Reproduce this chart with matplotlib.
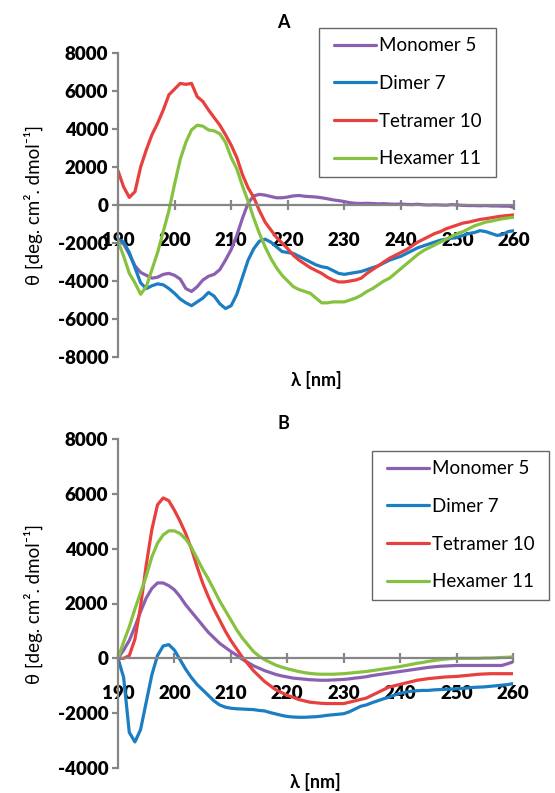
import numpy as np
import matplotlib
matplotlib.use("Agg")
import matplotlib.pyplot as plt
from matplotlib.legend_handler import HandlerLine2D

plt.rcParams['font.family'] = ['Lato', 'DejaVu Sans']
plt.rcParams['axes.unicode_minus'] = False

# wavelengths (nm)
wl = list(range(190, 261))

# ---- panel A ----
a_monomer = [-1900, -2050, -2600, -3200, -3550, -3700, -3850, -3800, -3650, -3600,
             -3700, -3900, -4400, -4550, -4300, -3950, -3750, -3650, -3400, -2900,
             -2350, -1600, -700, 100, 480, 560, 520, 450, 380, 380,
             420, 480, 500, 460, 440, 420, 380, 330, 270, 230,
             180, 120, 90, 80, 90, 80, 60, 70, 50, 40,
             50, 30, 20, 40, 10, 0, 10, 0, -10, 20,
             0, -20, -30, -30, -40, -30, -50, -50, -60, -60, -120]
a_dimer = [-1800, -1950, -2500, -3300, -4100, -4400, -4250, -4150, -4200, -4400,
           -4650, -4950, -5150, -5300, -5100, -4900, -4600, -4800, -5200, -5450,
           -5300, -4700, -3800, -2900, -2300, -1900, -1800, -1950, -2200, -2450,
           -2500, -2550, -2700, -2850, -3000, -3150, -3250, -3300, -3450, -3600,
           -3650, -3600, -3550, -3500, -3400, -3300, -3200, -3050, -2900, -2800,
           -2700, -2550, -2400, -2250, -2150, -2050, -1950, -1850, -1800, -1750,
           -1700, -1600, -1500, -1450, -1350, -1400, -1500, -1600, -1550, -1400, -1350]
a_tetramer = [1800, 950, 400, 700, 2000, 2900, 3700, 4300, 5000, 5800,
              6100, 6400, 6350, 6400, 5700, 5450, 5000, 4600, 4200, 3700,
              3150, 2500, 1600, 900, 400, -300, -900, -1300, -1700, -2000,
              -2300, -2650, -2900, -3100, -3300, -3450, -3600, -3800, -3950, -4050,
              -4050, -4000, -3950, -3850, -3600, -3400, -3200, -3000, -2800, -2650,
              -2500, -2350, -2150, -1950, -1800, -1650, -1500, -1400, -1250, -1150,
              -1050, -950, -900, -830, -760, -720, -670, -620, -580, -550, -520]
a_hexamer = [-1900, -2700, -3600, -4100, -4700, -4300, -3400, -2500, -1400, -300,
             1100, 2400, 3300, 3950, 4200, 4150, 3950, 3900, 3750, 3300,
             2500, 1900, 1000, 200, -700, -1500, -2200, -2800, -3300, -3700,
             -4000, -4300, -4450, -4550, -4650, -4900, -5150, -5150, -5100, -5100,
             -5100, -5000, -4900, -4750, -4550, -4400, -4200, -4000, -3850, -3600,
             -3350, -3100, -2850, -2600, -2400, -2250, -2100, -1950, -1800, -1650,
             -1500, -1400, -1250, -1100, -1000, -900, -850, -780, -720, -680, -640]

# ---- panel B ----
b_monomer = [0, 300, 650, 1150, 1700, 2200, 2550, 2750, 2750, 2650,
             2500, 2250, 1950, 1700, 1450, 1200, 950, 750, 550, 400,
             250, 120, -30, -150, -270, -360, -450, -520, -590, -640,
             -680, -720, -740, -760, -780, -790, -800, -800, -790, -780,
             -770, -750, -720, -700, -670, -630, -600, -570, -540, -510,
             -480, -450, -420, -390, -360, -330, -310, -290, -280, -270,
             -260, -260, -260, -260, -260, -260, -260, -260, -260, -200, -130]
b_dimer = [0, -700, -2700, -3050, -2600, -1600, -600, 100, 450, 500,
           300, -50, -400, -700, -950, -1150, -1350, -1550, -1700, -1780,
           -1820, -1840, -1850, -1860, -1870, -1900, -1920, -1980, -2030, -2080,
           -2120, -2140, -2150, -2150, -2140, -2130, -2110, -2080, -2060, -2040,
           -2020, -1950, -1850, -1750, -1700, -1620, -1550, -1480, -1420, -1340,
           -1280, -1230, -1200, -1180, -1170, -1170, -1150, -1140, -1130, -1120,
           -1110, -1100, -1080, -1060, -1050, -1040, -1020, -1000, -980, -960, -920]
b_tetramer = [0, 0, 100, 700, 1900, 3400, 4700, 5600, 5850, 5750,
              5400, 5000, 4550, 4000, 3350, 2750, 2250, 1800, 1400, 1000,
              650, 350, 50, -200, -450, -650, -850, -1000, -1150, -1250,
              -1350, -1420, -1500, -1550, -1600, -1620, -1640, -1650, -1650, -1650,
              -1650, -1600, -1550, -1500, -1450, -1350, -1250, -1150, -1050, -1000,
              -950, -900, -850, -800, -770, -740, -720, -700, -680, -670,
              -660, -640, -620, -600, -580, -570, -560, -560, -560, -560, -560]
b_hexamer = [0, 600, 1150, 1800, 2400, 3000, 3700, 4200, 4500, 4650,
             4650, 4550, 4350, 4050, 3650, 3250, 2900, 2500, 2100, 1750,
             1400, 1050, 750, 500, 250, 80, -50, -150, -250, -320,
             -380, -430, -480, -520, -550, -570, -580, -580, -580, -570,
             -560, -540, -520, -500, -480, -450, -420, -390, -360, -330,
             -300, -260, -220, -180, -150, -110, -80, -50, -30, -10,
             0, 0, 0, 0, 0, 10, 10, 20, 30, 40, 50]

labels = ["Monomer 5", "Dimer 7", "Tetramer 10", "Hexamer 11"]
colors = ["#8B60B0", "#1B7DC2", "#E8403F", "#86C240"]
xticks = [190, 200, 210, 220, 230, 240, 250, 260]

W, H = 555, 793
fig = plt.figure(figsize=(W / 100, H / 100), dpi=100)

grey = "#868686"
ylab = "θ [deg. cm². dmol⁻¹]"


class InsetLine(HandlerLine2D):
    # legend line that starts a little inside its slot
    def get_xdata(self, legend, xdescent, ydescent, width, height, fontsize):
        x = np.array([-xdescent + 0.12 * width, -xdescent + width])
        return x, x


def style_axis(ax, ylim, yticks, xlab_y):
    ax.set_xlim(190, 260)
    ax.set_ylim(*ylim)
    ax.set_xticks(xticks)
    ax.set_yticks(yticks)
    ax.spines['top'].set_visible(False)
    ax.spines['right'].set_visible(False)
    ax.spines['bottom'].set_position(('data', 0))
    for s in ('left', 'bottom'):
        ax.spines[s].set_color(grey)
        ax.spines[s].set_linewidth(1.6)
    ax.tick_params(axis='x', direction='inout', length=7, width=1.6, color=grey,
                   pad=16, labelsize=13.5)
    ax.tick_params(axis='y', direction='out', length=4, width=1.6, color=grey,
                   pad=3, labelsize=13.5)
    for t in ax.get_xticklabels() + ax.get_yticklabels():
        t.set_fontweight('heavy')
    ax.set_ylabel(ylab, fontsize=13.5)
    ax.yaxis.set_label_coords(-0.19, 0.5)
    ax.set_xlabel("λ [nm]", fontsize=13, fontweight='bold')
    ax.xaxis.set_label_coords(0.5, xlab_y)
    ax.patch.set_alpha(0)


def add_legend(ax, lines, x, y):
    leg = ax.legend(handles=lines, loc='upper left',
                    bbox_to_anchor=(x / W, 1 - y / H),
                    bbox_transform=fig.transFigure, fontsize=13.5, frameon=True,
                    fancybox=False, edgecolor='#404040', handlelength=2.55,
                    handletextpad=0.15, labelspacing=1.1, borderpad=0.5,
                    borderaxespad=0,
                    handler_map={ln: InsetLine() for ln in lines})
    leg.get_frame().set_linewidth(1.0)
    for t in leg.get_texts():
        t.set_text(t.get_text() + " ")
    return leg


# panel A
axA = fig.add_axes([118 / W, 1 - 357 / H, 396 / W, 304 / H])
linesA = []
for ys, c, lab in zip([a_monomer, a_dimer, a_tetramer, a_hexamer], colors, labels):
    linesA += axA.plot(wl, ys, color=c, lw=2.3, label=lab, solid_capstyle='round')
style_axis(axA, (-8000, 8000), list(range(-8000, 8001, 2000)), -0.045)
add_legend(axA, linesA, 319, 28)
fig.text(283 / W, 1 - 22 / H, "A", ha='center', va='center', fontsize=13,
         fontweight='bold')

# panel B
axB = fig.add_axes([118 / W, 1 - 768 / H, 395 / W, 329 / H])
linesB = []
for ys, c, lab in zip([b_monomer, b_dimer, b_tetramer, b_hexamer], colors, labels):
    linesB += axB.plot(wl, ys, color=c, lw=2.3, label=lab, solid_capstyle='round')
style_axis(axB, (-4000, 8000), list(range(-4000, 8001, 2000)), -0.015)
add_legend(axB, linesB, 372, 451)
fig.text(283 / W, 1 - 423 / H, "B", ha='center', va='center', fontsize=13,
         fontweight='bold')

fig.savefig("out.png", dpi=100)
